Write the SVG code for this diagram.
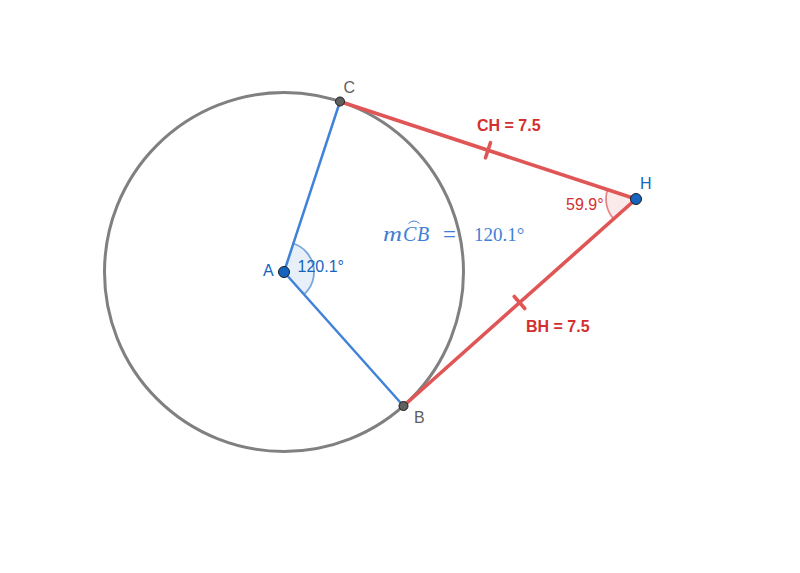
<svg xmlns="http://www.w3.org/2000/svg" width="800" height="573" viewBox="0 0 800 573">
<style>
.lab{font-family:"Liberation Sans",Arial,sans-serif;font-size:16px}
.bold{font-weight:bold;fill:#d32f2f}
.gray{fill:#606060}.blue{fill:#1565c0}.red{fill:#d32f2f}
.math{font-family:"Liberation Serif","Times New Roman",serif;font-size:19px;fill:#3f7fd6}
.seg-r{stroke:#e05555;stroke-width:3.6;fill:none;stroke-linecap:round}
.seg-b{stroke:#3f82d8;stroke-width:2.5;fill:none}
.pt{stroke:#1c1c1c;stroke-width:1}
</style>
<rect width="800" height="573" fill="#fff"/>
<g id="connectors">
<circle cx="284" cy="272" r="179.500" fill="none" stroke="#808080" stroke-width="3"/>
<path d="M284 272L293.400 243.500A30 30 0 0 1 303.900 294.500Z" fill="#1565c0" fill-opacity=".1"/>
<path d="M293.400 243.500A30 30 0 0 1 303.900 294.500" fill="none" stroke="#1565c0" stroke-opacity=".55" stroke-width="1.800"/>
<path d="M636 199L607.500 189.600A30 30 0 0 0 613.600 218.900Z" fill="#d32f2f" fill-opacity=".1"/>
<path d="M607.500 189.600A30 30 0 0 0 613.600 218.900" fill="none" stroke="#d32f2f" stroke-opacity=".55" stroke-width="1.800"/>
<path class="seg-b" d="M284 272L340 101.500"/>
<path class="seg-b" d="M284 272L403.500 406"/>
<path class="seg-r" d="M340 101.500L636 199"/>
<path class="seg-r" d="M403.500 406L636 199"/>
<path class="seg-r" d="M490.500 142.600L485.500 157.800"/>
<path class="seg-r" d="M514.200 296.500L524.800 308.500"/>
</g>
<g id="node-A"><circle class="pt" cx="284" cy="272" r="5.500" fill="#1565c0"/><text class="lab blue" x="263" y="276">A</text><text class="lab blue" x="297.500" y="272">120.1°</text></g>
<g id="node-C"><circle class="pt" cx="340" cy="101.500" r="4.500" fill="#606060"/><text class="lab gray" x="343.500" y="93">C</text></g>
<g id="node-B"><circle class="pt" cx="403.500" cy="406" r="4.500" fill="#606060"/><text class="lab gray" x="414" y="423">B</text></g>
<g id="node-H"><circle class="pt" cx="636" cy="199" r="5.500" fill="#1565c0"/><text class="lab blue" x="640" y="189">H</text><text class="lab red" x="566" y="210">59.9°</text></g>
<g id="label-CH"><text class="lab bold" x="477" y="131">CH = 7.5</text></g>
<g id="label-BH"><text class="lab bold" x="526" y="332">BH = 7.5</text></g>
<g id="label-arc">
<text class="math" x="383" y="241" font-style="italic" style="font-size:20px" textLength="19" lengthAdjust="spacingAndGlyphs">m</text>
<text class="math" x="403" y="241" font-style="italic" style="font-size:20px">C</text>
<text class="math" x="417" y="241" font-style="italic" style="font-size:20px">B</text>
<path d="M408.500 223.500Q414 218.500 419.500 223.500" fill="none" stroke="#3f7fd6" stroke-width="1"/>
<text class="math" x="443" y="242" style="font-size:23px">=</text>
<text class="math" x="474" y="241">120.1°</text>
</g>
</svg>
